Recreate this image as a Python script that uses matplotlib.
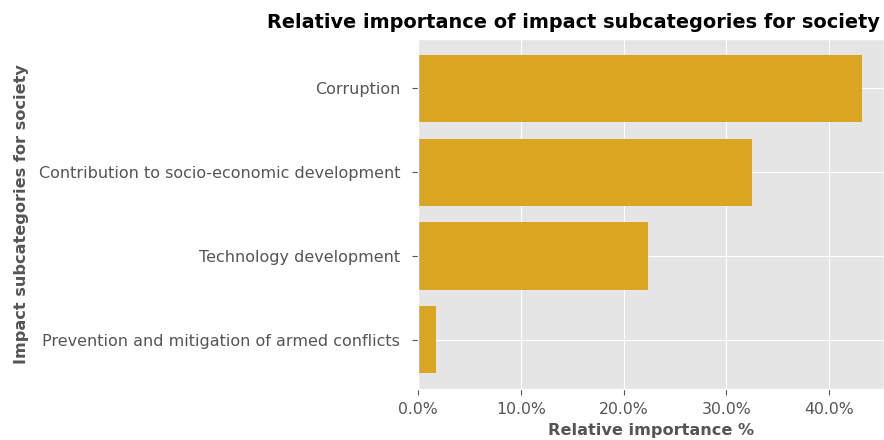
import matplotlib
matplotlib.use("Agg")
import matplotlib.pyplot as plt
from matplotlib.ticker import PercentFormatter

plt.style.use("ggplot")

# data, top to bottom
categories = [
    "Corruption",
    "Contribution to socio-economic development",
    "Technology development",
    "Prevention and mitigation of armed conflicts",
]
importance = [43.2, 32.5, 22.4, 1.7]

fig = plt.figure(figsize=(8.84, 4.4), dpi=100)
ax = fig.add_axes([0.473, 0.115, 0.527, 0.797])

ax.barh(categories[::-1], importance[::-1], color="goldenrod")
ax.xaxis.set_major_formatter(PercentFormatter(decimals=1))

ax.tick_params(axis="both", colors="#555555", labelcolor="#555555", length=4)
ax.tick_params(axis="y", labelsize=11.5, pad=9)
ax.tick_params(axis="x", labelsize=11.3, pad=5)
ax.set_xlabel("Relative importance %", fontsize=11.6, fontweight="bold", color="#555555")
ax.set_ylabel("Impact subcategories for society", fontsize=11.6, fontweight="bold",
              color="#555555")
ax.xaxis.set_label_coords(0.5, -0.097)
ax.yaxis.set_label_coords(-0.835, 0.5)
fig.text(0.649, 0.95, "Relative importance of impact subcategories for society",
         ha="center", va="center", fontsize=13.9, fontweight="bold", color="black")

fig.savefig("out.png", dpi=100)
